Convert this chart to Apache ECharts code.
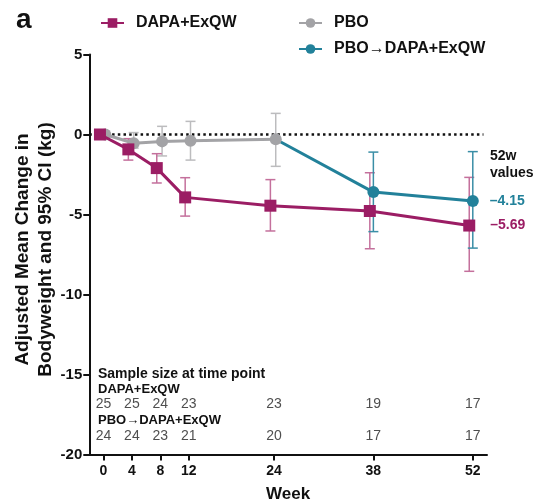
<!DOCTYPE html>
<html><head><meta charset="utf-8">
<script src="https://cdn.jsdelivr.net/npm/echarts@6/dist/echarts.min.js"></script>
<style>html,body{margin:0;padding:0;background:#fff}#c{width:537px;height:504px}</style>
</head><body><div id="c"></div>
<script>
const weeks = [0, 4, 8, 12, 24, 38, 52];
const dapaMean = [0, -0.93, -2.1, -3.93, -4.45, -4.78, -5.69];
const dapaLow  = [0, -1.6, -3.03, -5.1, -6.03, -7.14, -8.55];
const dapaHigh = [0, -0.26, -1.2, -2.7, -2.82, -2.39, -2.68];
const pboWeeks = [0, 4, 8, 12, 24];
const pboMean = [0, -0.55, -0.43, -0.39, -0.3];
const pboLow  = [0, -0.85, -1.34, -1.6, -1.99];
const pboHigh = [0, 0.12, 0.51, 0.82, 1.32];
const swWeeks = [24, 38, 52];
const swMean = [-0.3, -3.6, -4.15];
const swLow  = [null, -6.07, -7.1];
const swHigh = [null, -1.1, -1.07];
const nDapa = [25, 25, 24, 23, 23, 19, 17];
const nSwitch = [24, 24, 23, 21, 20, 17, 17];
const yTicks = [5, 0, -5, -10, -15, -20];

const C_DAPA = '#9b1d64', C_PBO = '#a3a3a6', C_SW = '#22819a';
const F = 'Liberation Sans, Arial, sans-serif';
// horizontal dodge of each group (in weeks), as drawn in the figure
const OFF_DAPA = -0.5, OFF_PBO = 0.25, OFF_SW = 0;

function errData(xs, lo, hi, off) {
  return xs.map((x, i) => [x + off, lo[i], hi[i]]).filter(d => d[1] !== null && d[1] !== d[2]);
}
function errSeries(name, data, color) {
  return {
    type: 'custom', name: name + ' err', data: data, z: 2, silent: true,
    encode: { x: 0, y: [1, 2] },
    renderItem: function (params, api) {
      const x = api.value(0);
      const p1 = api.coord([x, api.value(1)]);
      const p2 = api.coord([x, api.value(2)]);
      const w = 5;
      const st = { stroke: color, lineWidth: 1.5 };
      return { type: 'group', children: [
        { type: 'line', shape: { x1: p1[0], y1: p1[1], x2: p2[0], y2: p2[1] }, style: st },
        { type: 'line', shape: { x1: p1[0] - w, y1: p1[1], x2: p1[0] + w, y2: p1[1] }, style: st },
        { type: 'line', shape: { x1: p2[0] - w, y1: p2[1], x2: p2[0] + w, y2: p2[1] }, style: st }
      ]};
    }
  };
}
function legendAt(name, left, top) {
  return { left: left, top: top, padding: 0, itemWidth: 23, itemHeight: 12, data: [name], selectedMode: false,
    textStyle: { fontFamily: F, fontWeight: 'bold', fontSize: 16, color: '#111', padding: [0, 0, 0, 7] } };
}
function txt(text, x, y, font, color) {
  return { type: 'text', x: x, y: y, silent: true,
    style: { text: text, font: font, fill: color || '#111', verticalAlign: 'middle', align: 'left' } };
}

const chart = echarts.init(document.getElementById('c'));
chart.setOption({
  animation: false,
  textStyle: { fontFamily: F },
  grid: { left: 89.3, right: 50, top: 54.5, bottom: 49.5, containLabel: false, outerBoundsMode: 'none' },
  legend: [
    legendAt('DAPA+ExQW', 100, 15),
    legendAt('PBO', 298, 15),
    legendAt('PBO\u2192DAPA+ExQW', 298, 41)
  ],
  xAxis: {
    type: 'value', min: -2, max: 54,
    name: 'Week', nameLocation: 'middle', nameGap: 31, nameMoveOverlap: false,
    nameTextStyle: { fontFamily: F, fontWeight: 'bold', fontSize: 17, color: '#111' },
    axisLine: { show: true, onZero: false, lineStyle: { color: '#111', width: 2 } },
    axisTick: { show: true, customValues: weeks, length: 6, lineStyle: { color: '#111', width: 2 } },
    axisLabel: { customValues: weeks, fontFamily: F, fontWeight: 'bold', fontSize: 14, color: '#111', margin: 10 },
    splitLine: { show: false }
  },
  yAxis: {
    type: 'value', min: -20, max: 5, interval: 5,
    name: 'Adjusted Mean Change in\nBodyweight and 95% CI (kg)', nameLocation: 'middle', nameGap: 32, nameMoveOverlap: false,
    nameTextStyle: { fontFamily: F, fontWeight: 'bold', fontSize: 19, color: '#111', lineHeight: 23, padding: [0, 0, 0, 10] },
    axisLine: { show: true, onZero: false, lineStyle: { color: '#111', width: 2 } },
    axisTick: { show: true, length: 6, lineStyle: { color: '#111', width: 2 } },
    axisLabel: { fontFamily: F, fontWeight: 'bold', fontSize: 15, color: '#111', margin: 7 },
    splitLine: { show: false }
  },
  graphic: [
    txt('a', 16, 20, 'bold 28px ' + F),
    txt('52w', 490, 156, 'bold 14px ' + F),
    txt('values', 490, 173, 'bold 14px ' + F),
    txt('Sample size at time point', 98, 374, 'bold 14px ' + F),
    txt('DAPA+ExQW', 98, 389, 'bold 13px ' + F),
    txt('PBO\u2192DAPA+ExQW', 98, 420.5, 'bold 13px ' + F)
  ],
  series: [
    {
      type: 'line', name: 'zero', data: [[-2, 0], [53.5, 0]], symbol: 'none', silent: true, z: 1,
      lineStyle: { color: '#111', width: 2.5, type: [2.5, 3.2] }
    },
    errSeries('PBO', errData(pboWeeks, pboLow, pboHigh, OFF_PBO), '#bcbcbe'),
    errSeries('DAPA+ExQW', errData(weeks, dapaLow, dapaHigh, OFF_DAPA), '#c4709c'),
    errSeries('PBO\u2192DAPA+ExQW', errData(swWeeks, swLow, swHigh, OFF_SW), '#3a8ea6'),
    {
      type: 'line', name: 'PBO\u2192DAPA+ExQW', z: 3,
      data: swWeeks.map((w, i) => ({ value: [w + (i === 0 ? OFF_PBO : OFF_SW), swMean[i]], symbolSize: i === 0 ? 0 : 12,
        label: i === swWeeks.length - 1 ? { show: true, position: 'right', distance: 11, formatter: '\u2013' + Math.abs(swMean[i]).toFixed(2),
          fontFamily: F, fontWeight: 'bold', fontSize: 14, color: C_SW } : { show: false } })),
      symbol: 'circle', symbolSize: 12, itemStyle: { color: C_SW }, lineStyle: { color: C_SW, width: 3 }
    },
    {
      type: 'line', name: 'PBO', z: 4,
      data: pboWeeks.map((w, i) => [w + OFF_PBO, pboMean[i]]),
      symbol: 'circle', symbolSize: 12, itemStyle: { color: C_PBO }, lineStyle: { color: C_PBO, width: 3 }
    },
    {
      type: 'line', name: 'DAPA+ExQW', z: 5,
      data: weeks.map((w, i) => ({ value: [w + OFF_DAPA, dapaMean[i]],
        label: i === weeks.length - 1 ? { show: true, position: 'right', distance: 15, formatter: '\u2013' + Math.abs(dapaMean[i]).toFixed(2),
          fontFamily: F, fontWeight: 'bold', fontSize: 14, color: C_DAPA } : { show: false } })),
      symbol: 'rect', symbolSize: 12, itemStyle: { color: C_DAPA }, lineStyle: { color: C_DAPA, width: 3 }
    },
    {
      type: 'scatter', name: 'nDapa', symbol: 'circle', symbolSize: 1, silent: true, itemStyle: { color: 'rgba(0,0,0,0)' },
      data: weeks.map((w, i) => [w, -16.85, nDapa[i]]),
      label: { show: true, position: 'inside', formatter: p => String(p.value[2]), fontFamily: F, fontSize: 14, color: '#222' }
    },
    {
      type: 'scatter', name: 'nSwitch', symbol: 'circle', symbolSize: 1, silent: true, itemStyle: { color: 'rgba(0,0,0,0)' },
      data: weeks.map((w, i) => [w, -18.84, nSwitch[i]]),
      label: { show: true, position: 'inside', formatter: p => String(p.value[2]), fontFamily: F, fontSize: 14, color: '#222' }
    }
  ]
});
</script></body></html>
